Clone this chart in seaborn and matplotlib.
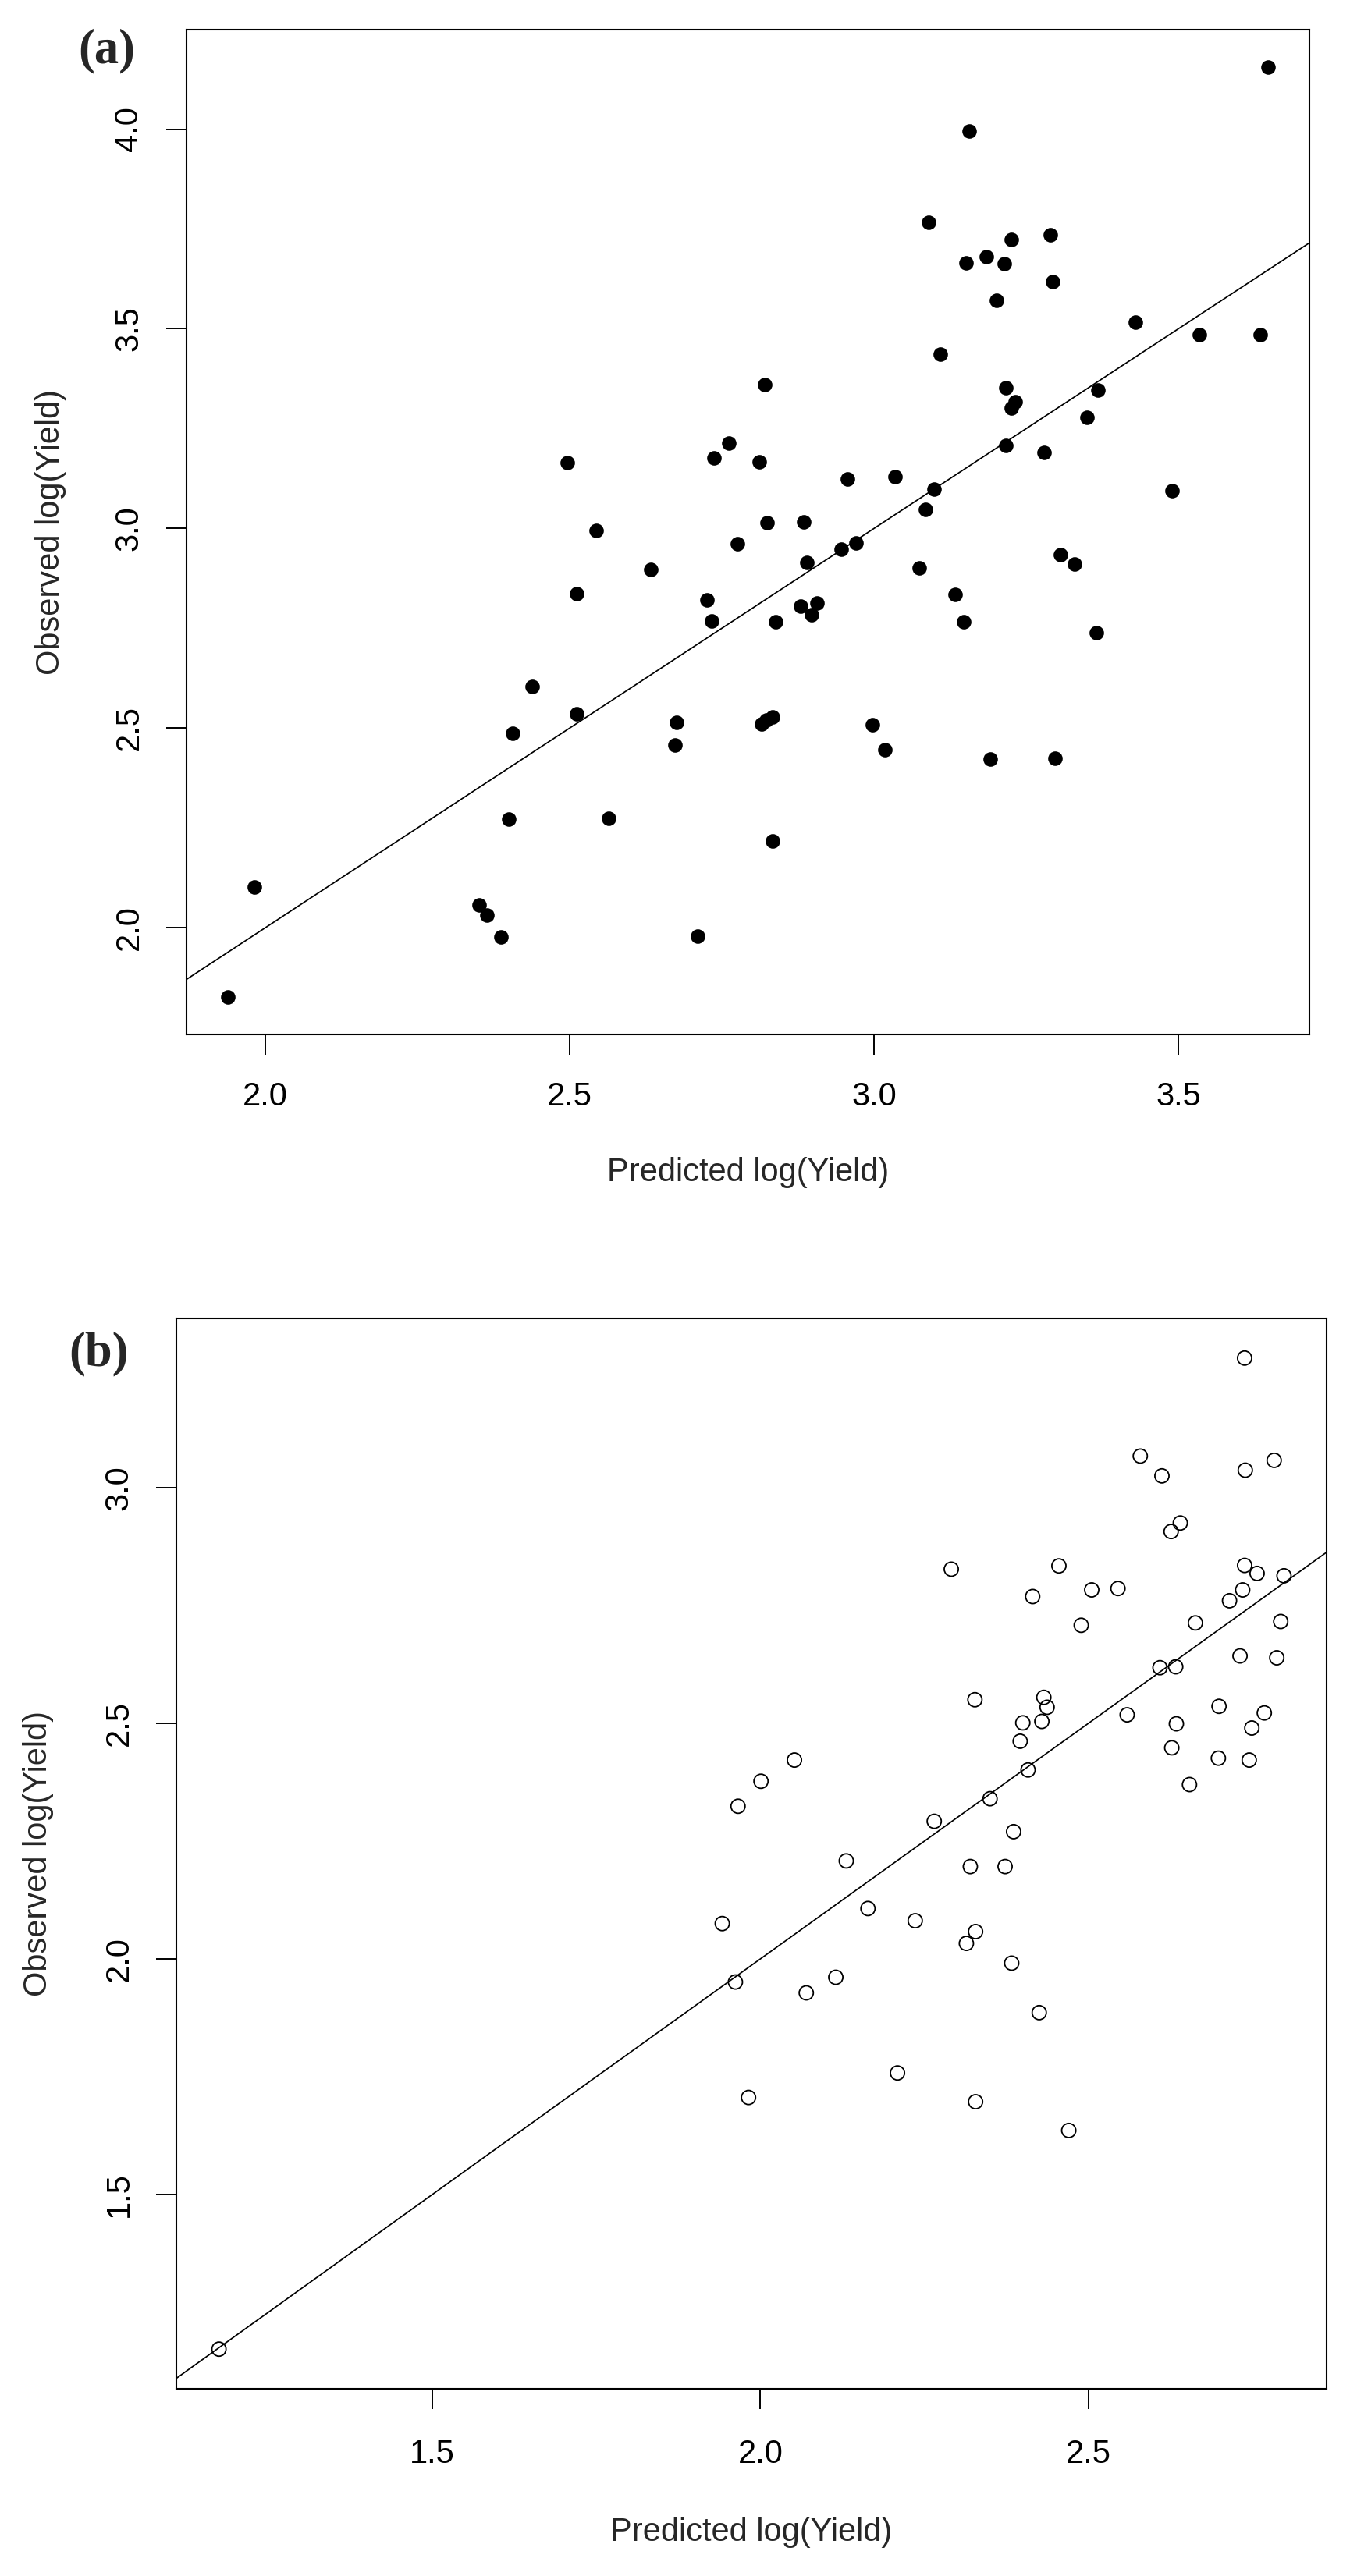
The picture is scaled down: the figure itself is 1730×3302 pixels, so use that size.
import matplotlib
matplotlib.use("Agg")
import matplotlib.pyplot as plt
import seaborn as sns
import pandas as pd

# (a) predicted vs observed log(Yield), filled points
pred_a = [1.939, 1.982, 2.352, 2.364, 2.387, 2.400, 2.407, 2.438, 2.496, 2.512,
          2.512, 2.544, 2.564, 2.634, 2.673, 2.676, 2.710, 2.726, 2.734, 2.737,
          2.761, 2.776, 2.811, 2.816, 2.823, 2.834, 2.821, 2.825, 2.834, 2.838,
          2.879, 2.885, 2.890, 2.897, 2.906, 2.946, 2.957, 2.971, 2.997, 3.018,
          3.034, 3.075, 3.085, 3.090, 3.099, 3.109, 3.133, 3.148, 3.151, 3.156,
          3.184, 3.191, 3.201, 3.214, 3.217, 3.217, 3.226, 3.226, 3.232, 3.279,
          3.290, 3.293, 3.297, 3.307, 3.329, 3.350, 3.365, 3.368, 3.429, 3.490,
          3.534, 3.635, 3.647]
obs_a = [1.826, 2.102, 2.058, 2.031, 1.977, 2.272, 2.486, 2.604, 3.164, 2.535,
         2.836, 2.994, 2.274, 2.898, 2.458, 2.514, 1.979, 2.822, 2.768, 3.176,
         3.214, 2.961, 3.166, 2.510, 2.520, 2.528, 3.361, 3.014, 2.218, 2.766,
         2.805, 3.017, 2.915, 2.784, 2.813, 2.948, 3.124, 2.963, 2.508, 2.446,
         3.129, 2.902, 3.048, 3.766, 3.098, 3.436, 2.834, 2.766, 3.666, 3.996,
         3.681, 2.423, 3.571, 3.664, 3.353, 3.207, 3.724, 3.301, 3.317, 3.191,
         3.736, 3.618, 2.425, 2.934, 2.911, 3.278, 2.739, 3.346, 3.517, 3.095,
         3.486, 3.486, 4.156]

# (b) predicted vs observed log(Yield), open points
pred_b = [1.175, 1.942, 1.962, 1.966, 1.982, 2.001, 2.052, 2.070, 2.115, 2.131,
          2.164, 2.209, 2.236, 2.265, 2.291, 2.314, 2.320, 2.327, 2.328, 2.328,
          2.350, 2.373, 2.383, 2.386, 2.396, 2.400, 2.408, 2.415, 2.425, 2.429,
          2.432, 2.437, 2.455, 2.470, 2.489, 2.505, 2.545, 2.559, 2.579, 2.609,
          2.612, 2.626, 2.627, 2.634, 2.633, 2.640, 2.654, 2.663, 2.698, 2.699,
          2.715, 2.731, 2.735, 2.738, 2.738, 2.739, 2.745, 2.749, 2.757, 2.768,
          2.783, 2.787, 2.793, 2.798]
obs_b = [1.172, 2.075, 1.951, 2.324, 1.706, 2.377, 2.422, 1.928, 1.961, 2.208,
         2.107, 1.758, 2.081, 2.292, 2.827, 2.033, 2.196, 2.550, 2.058, 1.697,
         2.340, 2.196, 1.991, 2.270, 2.462, 2.501, 2.401, 2.769, 1.886, 2.504,
         2.555, 2.534, 2.834, 1.636, 2.708, 2.783, 2.786, 2.518, 3.067, 2.618,
         3.025, 2.907, 2.448, 2.499, 2.620, 2.925, 2.370, 2.713, 2.426, 2.536,
         2.760, 2.643, 2.783, 2.835, 3.275, 3.037, 2.422, 2.490, 2.818, 2.522,
         3.058, 2.639, 2.716, 2.813]

xticks_a = [2.0, 2.5, 3.0, 3.5]
yticks_a = [2.0, 2.5, 3.0, 3.5, 4.0]
xticks_b = [1.5, 2.0, 2.5]
yticks_b = [1.5, 2.0, 2.5, 3.0]

x_label = "Predicted log(Yield)"
y_label = "Observed log(Yield)"

df_a = pd.DataFrame({"pred": pred_a, "obs": obs_a})
df_b = pd.DataFrame({"pred": pred_b, "obs": obs_b})


def r_range(v):
    # R style axis range: data range plus 4% on each side
    lo, hi = min(v), max(v)
    d = (hi - lo) * 0.04
    return lo - d, hi + d


sns.set_style("white")
plt.rcParams['font.family'] = ['Liberation Sans', 'DejaVu Sans']

W, H = 1731, 3302
fig = plt.figure(figsize=(W / 100, H / 100), dpi=100)


def px_axes(l, t, r, b):
    return fig.add_axes([l / W, 1 - b / H, (r - l) / W, (b - t) / H])


ax_a = px_axes(239, 38, 1678, 1326)
ax_b = px_axes(226, 1690, 1700, 3062)

sns.scatterplot(data=df_a, x="pred", y="obs", ax=ax_a, color="black",
                s=180, linewidth=0, zorder=3)
sns.scatterplot(data=df_b, x="pred", y="obs", ax=ax_b, color="black",
                s=170, linewidth=1.3, zorder=3)
ax_b.collections[0].set_facecolor("none")
ax_b.collections[0].set_edgecolor("black")


def style_axes(ax, df, xt, yt, xpad, ylab_x, xlab_y):
    ax.set_xlim(*r_range(df["pred"]))
    ax.set_ylim(*r_range(df["obs"]))
    ax.axline((0, 0), slope=1, color="black", lw=1.25, zorder=2)
    ax.set_xticks(xt, labels=[f"{t:.1f}" for t in xt])
    ax.set_yticks(yt, labels=[f"{t:.1f}" for t in yt])
    for sp in ax.spines.values():
        sp.set_visible(True)
        sp.set_color("black")
        sp.set_linewidth(1.5)
    ax.tick_params(axis="both", direction="out", length=19, width=1.4,
                   color="black", labelsize=30, labelcolor="black",
                   bottom=True, left=True)
    ax.tick_params(axis="x", pad=xpad)
    ax.tick_params(axis="y", pad=34, labelrotation=90)
    for lbl in ax.get_yticklabels():
        lbl.set_ha("center")
        lbl.set_va("center")
    ax.set_xlabel(x_label, fontsize=30, va="center")
    ax.set_ylabel(y_label, fontsize=30, va="center")
    ax.xaxis.set_label_coords(0.5, xlab_y)
    ax.yaxis.set_label_coords(ylab_x, 0.5)


style_axes(ax_a, df_a, xticks_a, yticks_a, 24, -0.1209, -0.1374)
style_axes(ax_b, df_b, xticks_b, yticks_b, 27, -0.1201, -0.1341)

serif = ['Liberation Serif', 'DejaVu Serif']
fig.text(100 / W, 1 - 80 / H, "(a)", fontsize=45, fontweight="bold",
         family=serif, ha="left", va="baseline")
fig.text(88 / W, 1 - 1750 / H, "(b)", fontsize=45, fontweight="bold",
         family=serif, ha="left", va="baseline")

fig.savefig("out.png", dpi=100)
